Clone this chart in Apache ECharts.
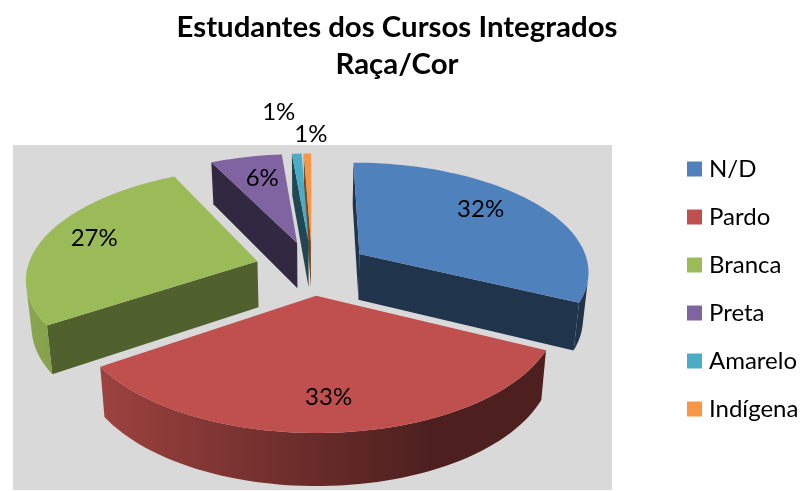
<!DOCTYPE html>
<html><head><meta charset="utf-8">
<style>html,body{margin:0;padding:0;background:#fff}#c{width:803px;height:491px}</style>
<script src="https://cdn.jsdelivr.net/npm/echarts@6/dist/echarts.min.js"></script>
</head><body><div id="c"></div>
<script>
const categories = ['N/D','Pardo','Branca','Preta','Amarelo','Indígena'];
const values = [32.2,33.4,27.1,5.9,0.8,0.6];
const percentLabels = ['32%','33%','27%','6%','1%','1%'];
const colors = ['#4f81bd','#c0504d','#9bbb59','#8064a2','#4bacc6','#f79646'];
const radialShade = [0.4,0.4,0.52,0.4,0.42,0.5];
const labelRadius = [0.72,0.8,0.75,0.8,1.3,1.2];
const labelNudge = [[-7,-7],[-3,-4],[-4,-3],[7,6],[-15,-19],[4,-4]];

// 3D pie model: a tilted plane seen in perspective
const cx=312, horizonY=-480, baseDepth=748, persp=0.00063, R=230, explode=57, rotation=0;
const rad=d=>d*Math.PI/180;
function project(u,v){const s=1/(1+persp*v);return {x:cx+u*s,y:horizonY+baseDepth*s,s};}
function lower(p){return [cx+(p.x-cx)*0.98,p.y+15.5+30.8*p.s];}
function shade(hex,k){
  const n=parseInt(hex.slice(1),16);
  const c=[n>>16&255,n>>8&255,n&255].map(a=>Math.round(a*k));
  return 'rgb('+c.join(',')+')';
}
function area(pts){let a=0;for(let i=0;i<pts.length;i++){const p=pts[i],q=pts[(i+1)%pts.length];a+=p[0]*q[1]-q[0]*p[1];}return a;}
const total=values.reduce((a,b)=>a+b,0);
const starts=[];values.reduce((acc,v,i)=>{starts[i]=acc;return acc+v/total*360;},rotation);

const bandStops=[[13,0.9],[100,0.82],[330,0.52],[430,0.4],[612,0.4]];
function bandFill(hex){
  return new echarts.graphic.LinearGradient(13,0,612,0,bandStops.map(s=>({offset:(s[0]-13)/599,color:shade(hex,s[1])})),true);
}
function sliceItem(i){
  const a0=starts[i],a1=a0+values[i]/total*360,mid=rad((a0+a1)/2);
  const ou=explode*Math.sin(mid),ov=explode*Math.cos(mid);
  const apex=project(ou,ov);
  const arc=[];const n=Math.max(2,Math.ceil((a1-a0)/2));
  for(let k=0;k<=n;k++){const t=rad(a0+(a1-a0)*k/n);arc.push(project(ou+R*Math.sin(t),ov+R*Math.cos(t)));}
  const xy=p=>[p.x,p.y];
  const children=[];
  const col=colors[i],radial=shade(col,radialShade[i]);
  const first=arc[0],last=arc[n];
  const w1=[xy(first),xy(apex),lower(apex),lower(first)];
  const w2=[xy(apex),xy(last),lower(last),lower(apex)];
  if(area(w1)>0)children.push({type:'polygon',z2:1,shape:{points:w1},style:{fill:radial}});
  if(area(w2)>0)children.push({type:'polygon',z2:2,shape:{points:w2},style:{fill:radial}});
  let run=[];
  const flush=()=>{
    if(run.length>1){
      const pts=run.map(xy).concat(run.slice().reverse().map(lower));
      children.push({type:'polygon',z2:3,shape:{points:pts},style:{fill:bandFill(col)}});
    }
    run=[];
  };
  for(let k=0;k<n;k++){
    const q=[xy(arc[k+1]),xy(arc[k]),lower(arc[k]),lower(arc[k+1])];
    if(area(q)>0){if(!run.length)run.push(arc[k]);run.push(arc[k+1]);}else flush();
  }
  flush();
  children.push({type:'polygon',z2:10,shape:{points:[xy(apex)].concat(arc.map(xy))},style:{fill:col}});
  const f=labelRadius[i]*R;
  const lp=project(ou+f*Math.sin(mid),ov+f*Math.cos(mid));
  children.push({type:'text',z2:20,style:{text:percentLabels[i],x:lp.x+labelNudge[i][0],y:lp.y+labelNudge[i][1],
    align:'center',verticalAlign:'middle',fill:'#000',font:'24px Lato'}});
  return {type:'group',children};
}
const depth=values.map((_,i)=>Math.cos(rad(starts[i]+values[i]/total*180)));
const series=categories.map((name,i)=>({
  type:'custom',name,coordinateSystem:'none',silent:true,
  itemStyle:{color:colors[i]},
  data:[[values[i]]],
  renderItem:()=>sliceItem(i)
}));
// nearer slices (smaller depth) paint last
const order=depth.map((d,i)=>[d,i]).sort((a,b)=>b[0]-a[0]).map(e=>e[1]);
order.forEach((idx,rank)=>{series[idx].z=2+rank;});

const chart=echarts.init(document.getElementById('c'),null,{renderer:'canvas'});
chart.setOption({
  animation:false,
  backgroundColor:'#fff',
  title:{text:'Estudantes dos Cursos Integrados\nRaça/Cor',left:392,top:4,textAlign:'center',
    textStyle:{fontFamily:'Lato',fontSize:29.4,fontWeight:'bold',color:'#000',lineHeight:37}},
  legend:{show:true,orient:'vertical',left:687,top:157,icon:'rect',itemWidth:15,itemHeight:15,itemGap:24,padding:0,
    data:categories,selectedMode:false,
    textStyle:{fontFamily:'Lato',fontSize:24,color:'#000',lineHeight:24,padding:[0,0,0,2]}},
  graphic:[{type:'rect',z:-1,silent:true,shape:{x:13,y:145,width:599,height:345},style:{fill:'#d9d9d9'}}],
  series
});
</script></body></html>
